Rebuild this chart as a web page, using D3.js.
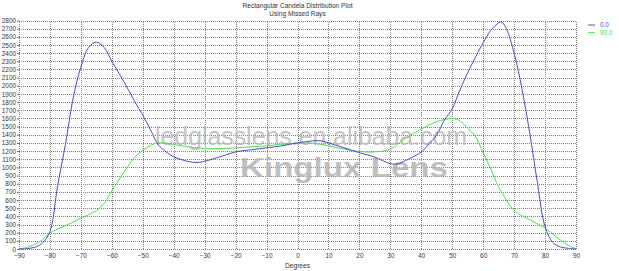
<!DOCTYPE html>
<html>
<head>
<meta charset="utf-8">
<script src="https://cdn.jsdelivr.net/npm/d3@7"></script>
<style>
  body { margin: 0; background: #fff; }
  text { font-family: Arial, "Liberation Sans", sans-serif; }
</style>
</head>
<body>
<div id="wrapper"></div>
<script>
// data
var degrees = [-90,-87.5,-85,-82.5,-80,-77.5,-75,-72.5,-70,-67.5,-65,-62.5,-60,-57.5,-55,-52.5,-50,-47.5,-45,-42.5,-40,-37.5,-35,-32.5,-30,-25,-20,-15,-10,-5,0,5,7.5,10,15,20,25,30,32.5,35,40,42.5,45,47.5,50,52.5,55,57.5,60,62.5,65,66,67.5,70,72.5,75,77.5,80,82.5,85,87.5,90];
var series0 = [0,5,20,70,215,780,1280,1850,2230,2470,2535,2470,2300,2140,1975,1800,1640,1460,1280,1190,1130,1095,1070,1060,1075,1130,1190,1215,1240,1265,1300,1325,1325,1300,1240,1180,1125,1045,1045,1085,1190,1290,1400,1580,1720,1950,2160,2350,2527,2680,2770,2780,2700,2400,1970,1430,820,274,80,25,8,0];
var degrees90 = [-90,-87.5,-85,-82.5,-80,-77.5,-75,-72.5,-70,-67.5,-65,-62.5,-60,-57.5,-55,-52.5,-50,-47.5,-45,-42.5,-40,-35,-30,-25,-20,-10,-5,0,5,10,15,20,25,30,35,40,45,50,52.5,55,57.5,60,62.5,65,67.5,70,72.5,75,77.5,80,82.5,85,87.5,90];
var series90 = [0,20,55,110,196,245,285,330,380,420,470,560,710,860,1000,1130,1210,1270,1300,1295,1280,1250,1230,1230,1240,1265,1285,1297,1295,1265,1225,1195,1190,1225,1360,1470,1560,1600,1570,1480,1380,1180,980,760,600,470,410,360,310,255,185,110,45,0];
var xTicks = d3.range(-90, 91, 10);
var yTicks = d3.range(0, 2801, 100);
var legendNames = ["0.0", "90.0"];
var colors = ["#4a4ad0", "#44e244"];

var W = 619, H = 271;
var margin = {top: 20.5, right: 43, bottom: 22, left: 19};

var svg = d3.select("#wrapper").append("svg")
    .attr("width", W).attr("height", H);

var x = d3.scaleLinear().domain([-90, 90]).range([margin.left, W - margin.right]);
var y = d3.scaleLinear().domain([0, 2800]).range([H - margin.bottom, margin.top]);

// title
svg.append("text").attr("x", x(0)).attr("y", 8).attr("text-anchor", "middle")
    .style("font-size", "6.6px").attr("fill", "#333")
    .text("Rectangular Candela Distribution Plot");
svg.append("text").attr("x", x(0)).attr("y", 16).attr("text-anchor", "middle")
    .style("font-size", "6.6px").attr("fill", "#333")
    .text("Using Missed Rays");

// dotted grid
var grid = svg.append("g").attr("stroke", "#808080").attr("stroke-width", 1)
    .attr("stroke-dasharray", "1,1").attr("shape-rendering", "crispEdges");
grid.selectAll(".gy").data(yTicks).enter().append("line")
    .attr("x1", x(-90)).attr("x2", x(90))
    .attr("y1", d => Math.round(y(d)) + 0.5).attr("y2", d => Math.round(y(d)) + 0.5);
grid.selectAll(".gx").data(xTicks).enter().append("line")
    .attr("y1", y(0)).attr("y2", y(2800))
    .attr("x1", d => Math.round(x(d)) + 0.5).attr("x2", d => Math.round(x(d)) + 0.5);

// y axis
var yAxis = svg.append("g")
    .attr("transform", `translate(${x(-90)},0)`)
    .call(d3.axisLeft(y).tickValues(yTicks).tickFormat(d3.format("d")).tickSize(2).tickPadding(1));
yAxis.select(".domain").remove();
yAxis.selectAll("line").attr("stroke", "#666");
yAxis.selectAll("text").style("font-size", "6.4px").attr("fill", "#333");

// x axis
var xAxis = svg.append("g")
    .attr("transform", `translate(0,${y(0)})`)
    .call(d3.axisBottom(x).tickValues(xTicks).tickFormat(d3.format("d")).tickSize(0).tickPadding(4.5));
xAxis.select(".domain").remove();
xAxis.selectAll("text").style("font-size", "6.4px").attr("fill", "#333");

svg.append("text").attr("x", x(0)).attr("y", 267.5).attr("text-anchor", "middle")
    .style("font-size", "6.6px").attr("fill", "#333").text("Degrees");

// watermarks
svg.append("text").attr("x", 155).attr("y", 145)
    .attr("textLength", 312).attr("lengthAdjust", "spacingAndGlyphs")
    .style("font-size", "25px").attr("fill", "#b8b8b8").attr("fill-opacity", 0.85)
    .text("ledglasslens.en.alibaba.com");
svg.append("text").attr("x", 240).attr("y", 177)
    .attr("textLength", 208).attr("lengthAdjust", "spacingAndGlyphs")
    .style("font-size", "27px").style("font-weight", "bold")
    .attr("fill", "#b4b4b4").attr("fill-opacity", 0.85)
    .text("Kinglux Lens");

// curves
var line = d3.line().curve(d3.curveCatmullRom.alpha(0.5))
    .x(d => x(d[0])).y(d => y(d[1]));
var data0 = degrees.map((d, i) => [d, series0[i]]);
var data90 = degrees90.map((d, i) => [d, series90[i]]);

svg.append("path").datum(data90).attr("d", line)
    .attr("fill", "none").attr("stroke", colors[1]).attr("stroke-width", 1);
svg.append("path").datum(data0).attr("d", line)
    .attr("fill", "none").attr("stroke", colors[0]).attr("stroke-width", 1);

// legend
var leg = svg.append("g").selectAll("g").data(legendNames).enter().append("g")
    .attr("transform", (d, i) => `translate(588,${25 + i * 7.7})`);
leg.append("line").attr("x1", 0).attr("x2", 7)
    .attr("stroke", (d, i) => colors[i]).attr("stroke-width", 1);
leg.append("text").attr("x", 12).attr("y", 2.2)
    .style("font-size", "6.4px").attr("fill", (d, i) => colors[i]).text(d => d);
</script>
</body>
</html>
